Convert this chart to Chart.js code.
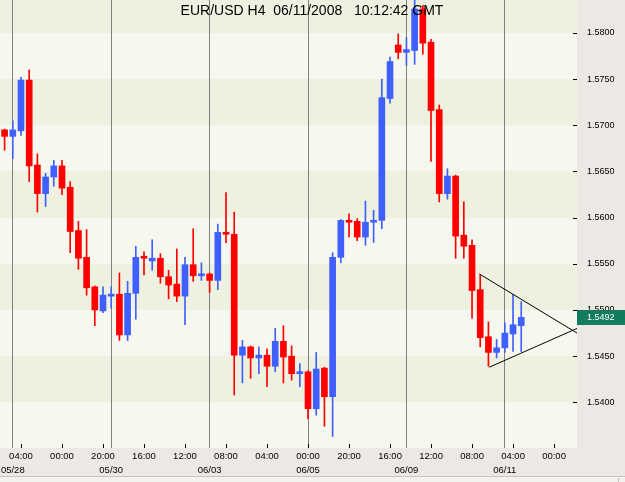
<!DOCTYPE html>
<html>
<head>
<meta charset="utf-8">
<title>EUR/USD H4</title>
<script src="https://cdn.jsdelivr.net/npm/chart.js@4.4.0/dist/chart.umd.min.js"></script>
<style>
html, body { margin: 0; padding: 0; background: #ece9e4; }
#chart { display: block; }
</style>
</head>
<body>
<canvas id="chart" width="625" height="482"></canvas>
<script>
// H4 candles, 05/27 20:00 -> 06/11 08:00
const opens = [
    1.5695, 1.5688, 1.5694, 1.5749, 1.5657, 1.5626, 1.5644, 1.5656, 1.5633, 1.5586,
    1.5557, 1.5525, 1.5499, 1.5515, 1.5517, 1.5473, 1.5518, 1.5558, 1.5553, 1.5556,
    1.5536, 1.5528, 1.5515, 1.5549, 1.5537, 1.5539, 1.5532, 1.5584, 1.5582, 1.5451,
    1.5460, 1.5448, 1.5451, 1.5439, 1.5466, 1.5450, 1.5431, 1.5433, 1.5393, 1.5437,
    1.5406, 1.5557, 1.5597, 1.5596, 1.5579, 1.5595, 1.5597, 1.5729, 1.5787, 1.5779,
    1.5781, 1.5826, 1.5790, 1.5717, 1.5626, 1.5645, 1.5581, 1.5570, 1.5522, 1.5471,
    1.5454, 1.5459, 1.5474, 1.5483,
];
const highs = [
    1.5696, 1.5705, 1.5752, 1.5760, 1.5669, 1.5648, 1.5662, 1.5662, 1.5639, 1.5596,
    1.5587, 1.5526, 1.5525, 1.5525, 1.5540, 1.5531, 1.5569, 1.5563, 1.5576, 1.5561,
    1.5543, 1.5566, 1.5557, 1.5588, 1.5551, 1.5540, 1.5593, 1.5627, 1.5606, 1.5467,
    1.5461, 1.5460, 1.5458, 1.5480, 1.5483, 1.5461, 1.5442, 1.5434, 1.5454, 1.5438,
    1.5562, 1.5598, 1.5604, 1.5599, 1.5618, 1.5608, 1.5750, 1.5774, 1.5799, 1.5795,
    1.5836, 1.5830, 1.5793, 1.5722, 1.5653, 1.5646, 1.5617, 1.5576, 1.5538, 1.5487,
    1.5468, 1.5486, 1.5517, 1.5509,
];
const lows = [
    1.5673, 1.5664, 1.5689, 1.5639, 1.5606, 1.5612, 1.5634, 1.5625, 1.5562, 1.5544,
    1.5516, 1.5483, 1.5497, 1.5502, 1.5467, 1.5467, 1.5490, 1.5538, 1.5543, 1.5529,
    1.5512, 1.5509, 1.5484, 1.5531, 1.5532, 1.5519, 1.5522, 1.5573, 1.5408, 1.5421,
    1.5426, 1.5431, 1.5417, 1.5433, 1.5421, 1.5424, 1.5417, 1.5382, 1.5386, 1.5374,
    1.5363, 1.5551, 1.5579, 1.5575, 1.5570, 1.5573, 1.5588, 1.5724, 1.5772, 1.5765,
    1.5766, 1.5777, 1.5661, 1.5617, 1.5620, 1.5556, 1.5556, 1.5491, 1.5460, 1.5439,
    1.5448, 1.5454, 1.5455, 1.5455,
];
const closes = [
    1.5688, 1.5695, 1.5749, 1.5656, 1.5626, 1.5644, 1.5656, 1.5632, 1.5585, 1.5556,
    1.5524, 1.5500, 1.5516, 1.5516, 1.5473, 1.5518, 1.5557, 1.5556, 1.5556, 1.5536,
    1.5527, 1.5515, 1.5549, 1.5537, 1.5538, 1.5532, 1.5584, 1.5582, 1.5451, 1.5460,
    1.5448, 1.5451, 1.5439, 1.5466, 1.5449, 1.5431, 1.5432, 1.5393, 1.5436, 1.5406,
    1.5557, 1.5597, 1.5595, 1.5579, 1.5595, 1.5597, 1.5730, 1.5769, 1.5779, 1.5782,
    1.5826, 1.5789, 1.5716, 1.5626, 1.5645, 1.5580, 1.5569, 1.5521, 1.5470, 1.5454,
    1.5459, 1.5475, 1.5484, 1.5492,
];

const hour_tick_idx = [2, 7, 12, 17, 22, 27, 32, 37, 42, 47, 52, 57, 62, 67];
const hour_tick_labels = ["04:00", "00:00", "20:00", "16:00", "12:00", "08:00", "04:00",
                          "00:00", "20:00", "16:00", "12:00", "08:00", "04:00", "00:00"];
const date_tick_idx = [1, 13, 25, 37, 49, 61];
const date_tick_labels = ["05/28", "05/30", "06/03", "06/05", "06/09", "06/11"];
const price_ticks = [1.5400, 1.5450, 1.5500, 1.5550, 1.5600, 1.5650, 1.5700, 1.5750, 1.5800];

// triangle drawn on the chart (bar index, price)
const tri_upper = [[57.89, 1.5539], [69.8, 1.5475]];
const tri_lower = [[59.11, 1.5438], [69.8, 1.5480]];

const chart_title = "EUR/USD H4  06/11/2008   10:12:42 GMT";
const last_price = closes[closes.length - 1];

const X_MIN = -0.56, X_MAX = 69.8;
const Y_MIN = 1.53505, Y_MAX = 1.58357;

const BLUE = "#3f5fff";
const RED = "#ff0000";
const BAND_DARK = "#eef1e0";
const BAND_LIGHT = "#f6f8ef";
const PANEL = "#ece9e4";
const FONT = "'Liberation Sans', Arial, sans-serif";

const candle_colors = opens.map((o, i) => closes[i] >= o ? BLUE : RED);

function no_padding(s) {
    s.paddingTop = 0;
    s.paddingBottom = 0;
    s.paddingLeft = 0;
    s.paddingRight = 0;
}

const backdrop = {
    id: "backdrop",
    beforeDraw(chart) {
        const {ctx, chartArea: a, scales} = chart;
        ctx.save();
        ctx.fillStyle = PANEL;
        ctx.fillRect(0, 0, chart.width, chart.height);

        // window edge strip under the time axis
        ctx.fillStyle = "#f3f2ef";
        ctx.fillRect(0, 477, chart.width, chart.height - 477);
        ctx.fillStyle = "#c8c5be";
        ctx.fillRect(0, 476, chart.width, 1);
        ctx.fillRect(618, 478, 1, chart.height - 478);

        const edges = [a.top];
        price_ticks.slice().sort((p, q) => q - p).forEach(v => {
            edges.push(Math.round(scales.y.getPixelForValue(v)));
        });
        edges.push(a.bottom);
        for (let k = 0; k < edges.length - 1; k++) {
            ctx.fillStyle = (k % 2 == 0) ? BAND_DARK : BAND_LIGHT;
            ctx.fillRect(a.left, edges[k], a.right - a.left, edges[k + 1] - edges[k]);
        }
        ctx.restore();
    },
    afterDraw(chart) {
        const {ctx, chartArea: a, scales} = chart;
        ctx.save();
        ctx.strokeStyle = "#000";
        ctx.lineWidth = 1;
        ctx.beginPath();
        for (const t of scales.y.ticks) {
            const y = Math.round(scales.y.getPixelForValue(t.value)) + 0.5;
            ctx.moveTo(a.right - 4, y);
            ctx.lineTo(a.right, y);
        }
        for (const t of scales.x.ticks) {
            const x = Math.round(scales.x.getPixelForValue(t.value)) + 0.5;
            ctx.moveTo(x, a.bottom - 4);
            ctx.lineTo(x, a.bottom);
        }
        ctx.stroke();

        // current price marker
        const py = Math.round(scales.y.getPixelForValue(last_price));
        ctx.fillStyle = "#127c5d";
        ctx.fillRect(a.right, py - 7, chart.width - a.right, 15);
        ctx.fillStyle = "#fff";
        ctx.font = `9px ${FONT}`;
        ctx.textBaseline = "middle";
        ctx.textAlign = "left";
        ctx.fillText(last_price.toFixed(4), a.right + 10, py + 0.5);

        ctx.fillStyle = "#000";
        ctx.font = `14px ${FONT}`;
        ctx.textAlign = "center";
        ctx.textBaseline = "alphabetic";
        ctx.fillText(chart_title, 312, 15);
        ctx.restore();
    },
};

const chart = new Chart(document.getElementById("chart"), {
    type: "bar",
    data: {
        datasets: [
            {
                type: "line",
                data: tri_upper.map(([x, y]) => ({x, y})),
                borderColor: "#000",
                borderWidth: 1,
                pointRadius: 0,
            },
            {
                type: "line",
                data: tri_lower.map(([x, y]) => ({x, y})),
                borderColor: "#000",
                borderWidth: 1,
                pointRadius: 0,
            },
            {
                data: opens.map((o, i) => ({x: i, y: [o, closes[i]]})),
                backgroundColor: candle_colors,
                barThickness: 6,
                minBarLength: 2,
                grouped: false,
            },
            {
                data: lows.map((l, i) => ({x: i, y: [l, highs[i]]})),
                backgroundColor: candle_colors,
                barThickness: 1,
                grouped: false,
            },
        ],
    },
    options: {
        responsive: false,
        animation: false,
        events: [],
        layout: { padding: 0 },
        plugins: {
            legend: { display: false },
            tooltip: { enabled: false },
        },
        scales: {
            x: {
                type: "linear",
                position: "bottom",
                min: X_MIN,
                max: X_MAX,
                offset: false,
                weight: 0,
                grid: { display: false, drawTicks: false, offset: false },
                border: { display: false },
                afterBuildTicks: s => { s.ticks = hour_tick_idx.map(v => ({value: v})); },
                afterFit: s => { s.height = 14; no_padding(s); },
                ticks: {
                    autoSkip: false,
                    maxRotation: 0,
                    padding: 3,
                    color: "#000",
                    font: { family: FONT, size: 9.5 },
                    callback: (v, i) => hour_tick_labels[i],
                },
            },
            x2: {
                type: "linear",
                position: "bottom",
                min: X_MIN,
                max: X_MAX,
                offset: false,
                weight: 1,
                grid: { display: true, drawTicks: false, offset: false, color: "#808080", lineWidth: 1 },
                border: { display: false },
                afterBuildTicks: s => { s.ticks = date_tick_idx.map(v => ({value: v})); },
                afterFit: s => { s.height = 20; no_padding(s); },
                ticks: {
                    autoSkip: false,
                    maxRotation: 0,
                    padding: 3,
                    color: "#000",
                    font: { family: FONT, size: 9.5 },
                    callback: (v, i) => date_tick_labels[i],
                },
            },
            y: {
                type: "linear",
                position: "right",
                min: Y_MIN,
                max: Y_MAX,
                grid: { display: false, drawTicks: false },
                border: { display: false },
                afterBuildTicks: s => { s.ticks = price_ticks.map(v => ({value: v})); },
                afterFit: s => { s.width = 48; no_padding(s); },
                ticks: {
                    padding: 10,
                    color: "#000",
                    font: { family: FONT, size: 9 },
                    callback: v => v.toFixed(4),
                },
            },
        },
    },
    plugins: [backdrop],
});
</script>
</body>
</html>
